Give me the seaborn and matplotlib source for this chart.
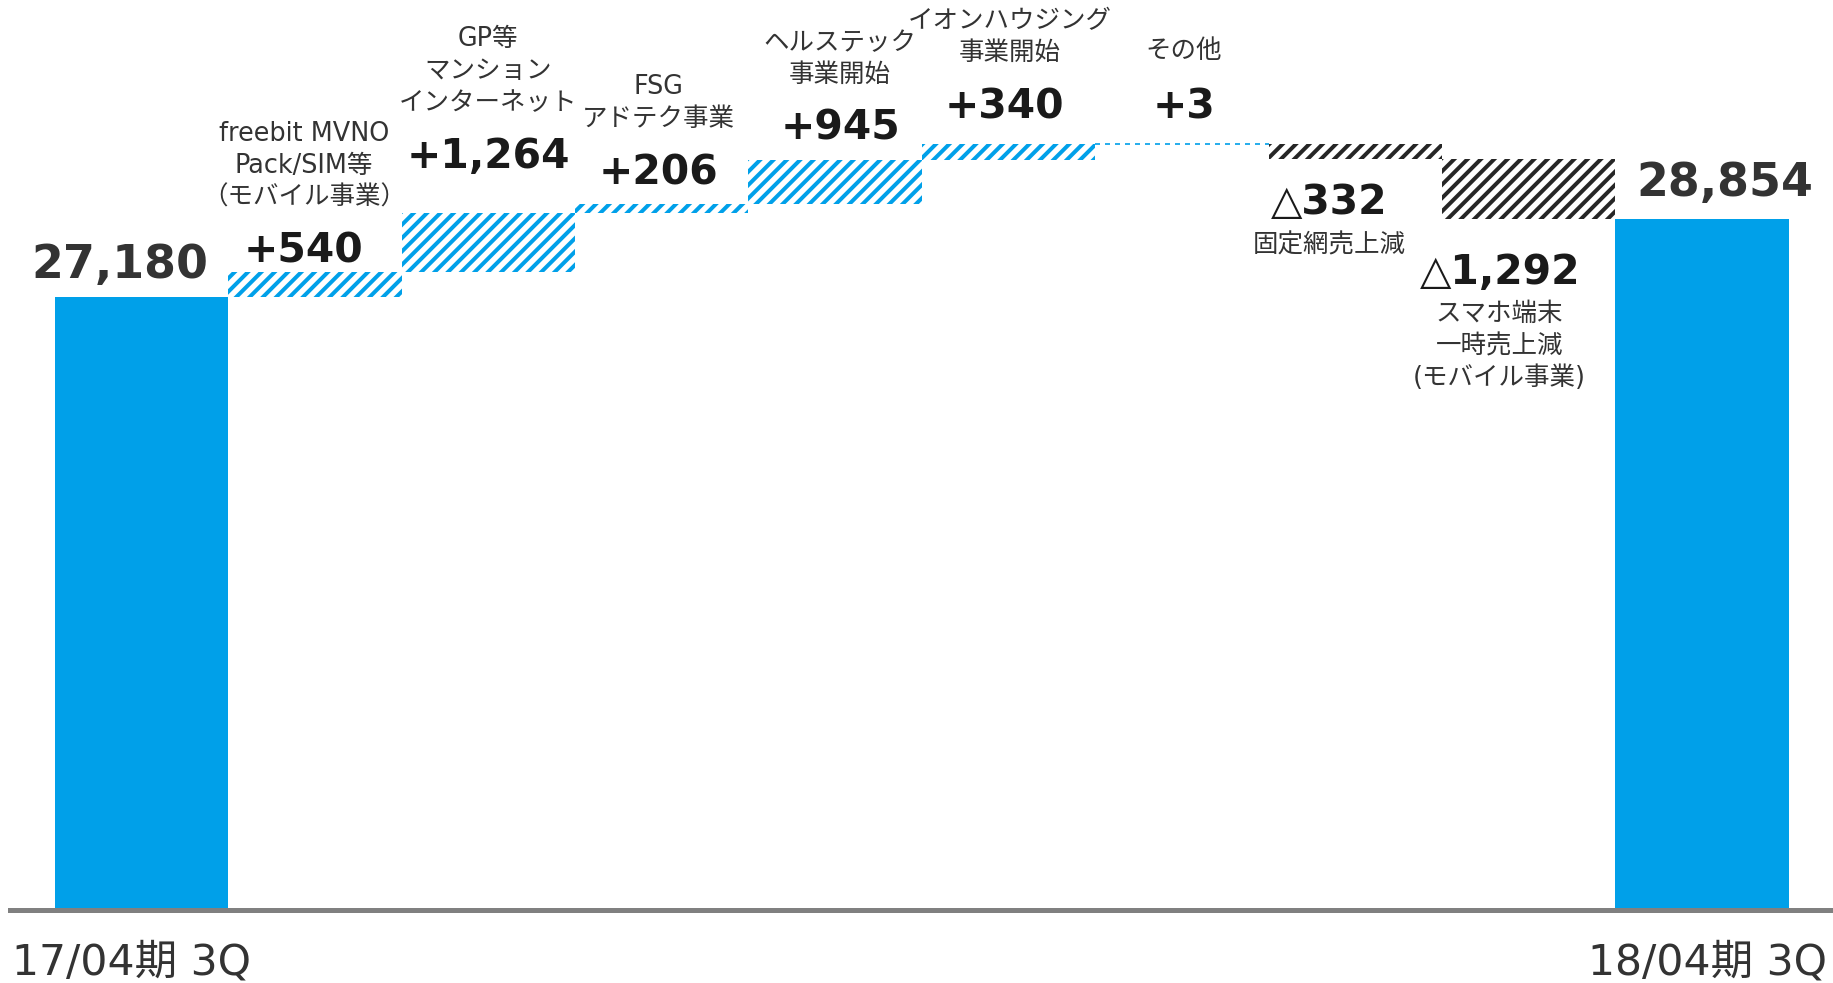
import numpy as np
import pandas as pd
import matplotlib
matplotlib.use("Agg")
import matplotlib.pyplot as plt
import matplotlib.transforms as mtransforms
import seaborn as sns

# ---------------- data ----------------
categories = ["17/04期 3Q", "freebit MVNO", "GP等", "FSG", "ヘルステック",
              "イオンハウジング", "その他", "固定網", "スマホ端末", "18/04期 3Q"]
start_value = 27180
end_value = 28854
deltas = [540, 1264, 206, 945, 340, 3, -332, -1292]
tick_labels = ["17/04期 3Q", "18/04期 3Q"]
value_labels = ["27,180", "+540", "+1,264", "+206", "+945", "+340", "+3",
                "△332", "△1,292", "28,854"]
desc_labels = ["",
               "freebit MVNO\nPack/SIM等\n（モバイル事業）",
               "GP等\nマンション\nインターネット",
               "FSG\nアドテク事業",
               "ヘルステック\n事業開始",
               "イオンハウジング\n事業開始",
               "その他",
               "固定網売上減",
               "スマホ端末\n一時売上減\n(モバイル事業)",
               ""]

# ---------------- style ----------------
BLUE = "#00A0E9"
DARK = "#262626"
TEXT = "#333333"
AXIS = "#808080"
DPI = 120
PX = DPI / 72.0  # pixels per point

sns.set_style("white")
FAM = ["DejaVu Sans", "Noto Sans CJK JP"]
plt.rcParams["font.family"] = FAM
plt.rcParams["hatch.linewidth"] = 2.4

W, H = 1833, 983
fig = plt.figure(figsize=(W / DPI, H / DPI), dpi=DPI)
ax_left_px, ax_bottom_px = 10.5, 909.5
ax = fig.add_axes([ax_left_px / W, (H - ax_bottom_px) / H,
                   (W - ax_left_px) / W, ax_bottom_px / H])

# ---------------- derived values ----------------
deltas_arr = np.array(deltas)
cum_after = start_value + np.cumsum(deltas_arr)
cum_before = cum_after - deltas_arr
n = len(categories)
delta_cats = categories[1:-1]

tot_df = pd.DataFrame({"cat": [categories[0], categories[-1]],
                       "val": [start_value, end_value]})
pos_mask = deltas_arr > 0
neg_mask = deltas_arr < 0
pos_df = pd.DataFrame({"cat": np.array(delta_cats)[pos_mask], "val": deltas_arr[pos_mask]})
neg_df = pd.DataFrame({"cat": np.array(delta_cats)[neg_mask], "val": deltas_arr[neg_mask]})

# totals
sns.barplot(data=tot_df, x="cat", y="val", order=categories, color=BLUE,
            width=1.0, errorbar=None, linewidth=0, saturation=1, ax=ax)
# increases (hatched blue)
sns.barplot(data=pos_df, x="cat", y="val", order=categories, color=BLUE,
            width=1.0, errorbar=None, saturation=1, ax=ax,
            bottom=cum_before[pos_mask], facecolor="none", edgecolor=BLUE,
            hatch="///", linewidth=0)
# decreases (hatched dark)
sns.barplot(data=neg_df, x="cat", y="val", order=categories, color=DARK,
            width=1.0, errorbar=None, saturation=1, ax=ax,
            bottom=cum_before[neg_mask], facecolor="none", edgecolor=DARK,
            hatch="///", linewidth=0)

# tiny change shown as dashed connector
tiny = np.where(np.abs(deltas_arr) < 50)[0]
for j in tiny:
    i = j + 1
    ax.hlines(cum_after[j], i - 0.5, i + 0.5, colors=BLUE, linewidth=1.0,
              linestyles=(0, (3.0, 3.0)))

# axis ranges (pixel-calibrated)
y_bottom = 13946
px_per_unit = 0.0463
ax.set_ylim(y_bottom, y_bottom + ax_bottom_px / px_per_unit)
bar_px = 173.4
c0 = 141.5
ax.set_xlim((ax_left_px - c0) / bar_px, (W - c0) / bar_px)

for s in ["left", "right", "top"]:
    ax.spines[s].set_visible(False)
ax.spines["bottom"].set_color(AXIS)
ax.spines["bottom"].set_linewidth(5 / PX)
ax.set_yticks([])
ax.set_xlabel("")
ax.set_ylabel("")
ax.set_xticks([0, n - 1], tick_labels)
ax.tick_params(axis="x", length=0, pad=19.5, labelsize=25.5, labelcolor=TEXT)
xt = ax.get_xticklabels()
for t in xt:
    t.set_family(FAM)
xt[0].set_transform(xt[0].get_transform() +
                    mtransforms.ScaledTranslation(-10 / DPI, 0, fig.dpi_scale_trans))
xt[1].set_transform(xt[1].get_transform() +
                    mtransforms.ScaledTranslation(5 / DPI, 0, fig.dpi_scale_trans))

# ---------------- annotations ----------------
tops = np.concatenate([[start_value], np.maximum(cum_before, cum_after), [end_value]])
bottoms = np.concatenate([[start_value], np.minimum(cum_before, cum_after), [end_value]])
is_neg = np.concatenate([[False], deltas_arr < 0, [False]])

# offsets in pixels from the bar anchor (top for up-bars, bottom for down-bars)
value_offsets = [(-21.5, -31), (-11, -20), (0, -56), (-3, -30), (5, -31),
                 (-4.5, -37), (2, -37), (-26, 44), (-29, 54), (23, -36)]
desc_offsets = [None, (-11, -106), (0, -142), (-3, -101), (5, -101),
                (1.5, -107), (2, -93), (-26, 86), (-29, 127), None]
value_sizes = [27.5] + [24.5] * len(deltas) + [27.5]

for i in range(n):
    anchor = bottoms[i] if is_neg[i] else tops[i]
    dx, dy = value_offsets[i]
    col = TEXT if i in (0, n - 1) else "#1a1a1a"
    ax.annotate(value_labels[i], xy=(i, anchor), xytext=(dx / PX, -dy / PX),
                textcoords="offset points", ha="center", va="center",
                fontsize=value_sizes[i], fontweight="bold", color=col,
                family=FAM, annotation_clip=False)
    if desc_labels[i]:
        dx, dy = desc_offsets[i]
        ax.annotate(desc_labels[i], xy=(i, anchor), xytext=(dx / PX, -dy / PX),
                    textcoords="offset points", ha="center", va="center",
                    fontsize=15.3, color=TEXT, family=FAM, linespacing=1.3,
                    multialignment="center", annotation_clip=False)

fig.savefig("out.png", dpi=DPI)
